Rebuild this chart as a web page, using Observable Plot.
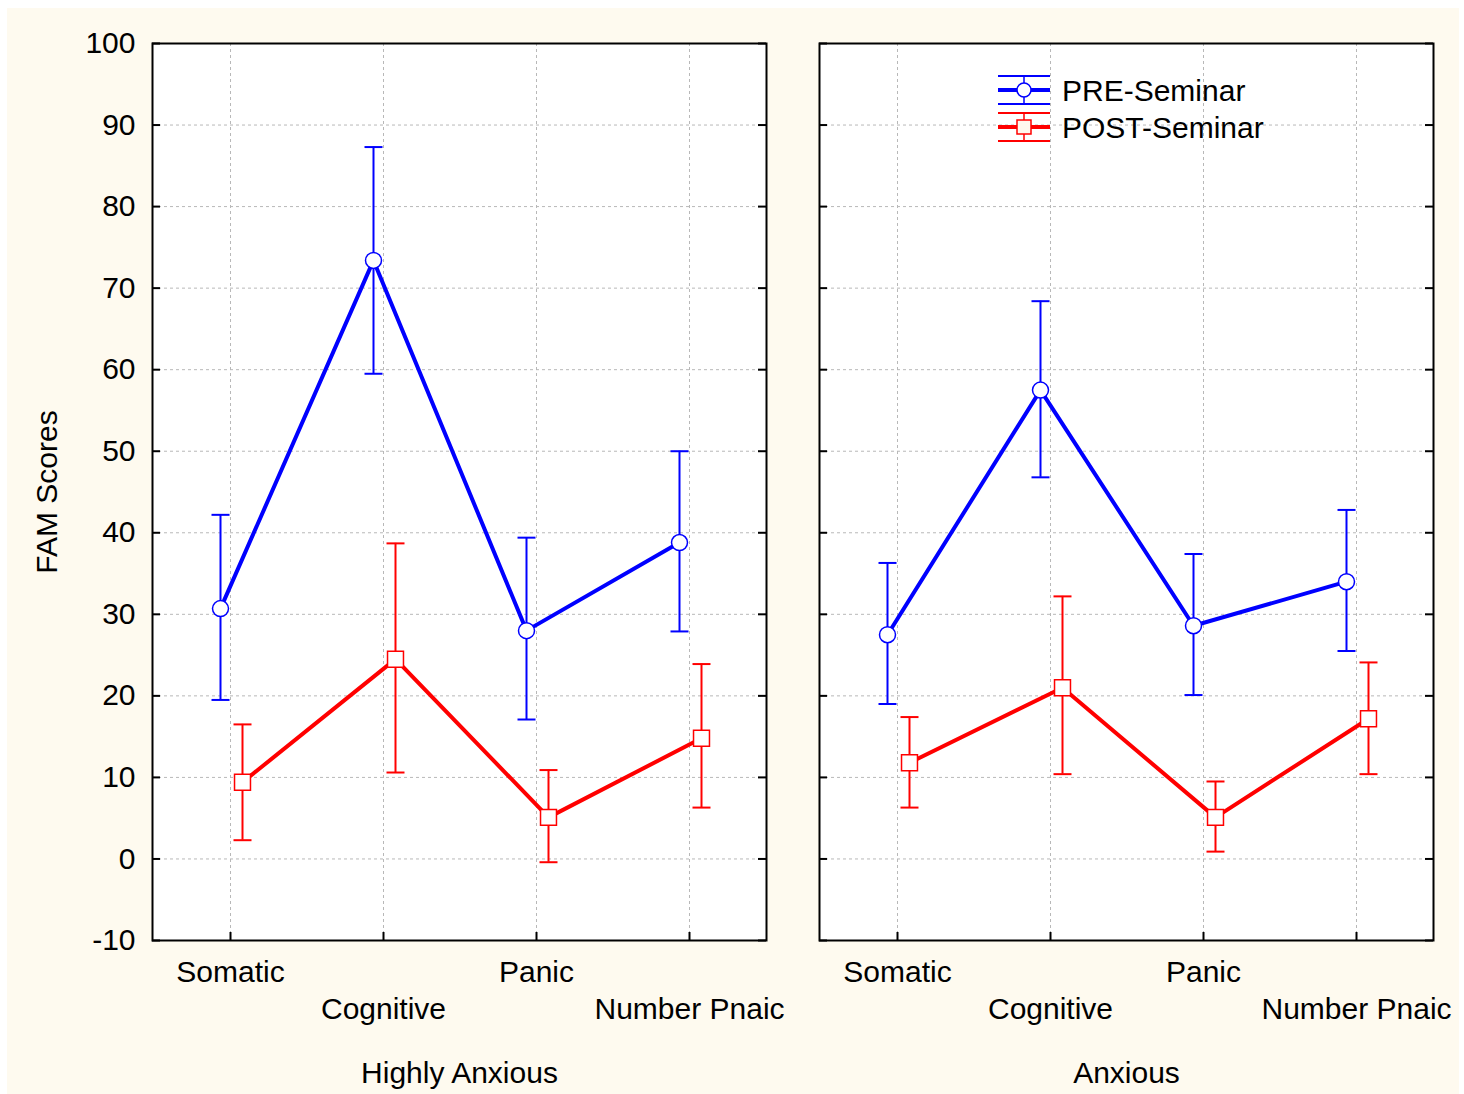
<!DOCTYPE html>
<html>
<head>
<meta charset="utf-8">
<script src="https://cdn.jsdelivr.net/npm/d3@7"></script>
<script src="https://cdn.jsdelivr.net/npm/@observablehq/plot@0.6"></script>
<style>
  html, body { margin: 0; padding: 0; background: #ffffff; }
  #wrap { position: relative; width: 1464px; height: 1094px; overflow: hidden; }
  #bg { position: absolute; left: 7px; top: 8px; width: 1452px; height: 1086px; background: #fefaef; }
  #chart { position: absolute; left: 0; top: 0; }
  #legend { position: absolute; left: 990px; top: 62px; }
</style>
</head>
<body>
<div id="wrap">
  <div id="bg"></div>
  <div id="chart"></div>
  <svg id="legend" width="300" height="90"></svg>
</div>
<script>
// ---- data ----
const categories = ["Somatic", "Cognitive", "Panic", "Number Pnaic"];
const groups = ["Highly Anxious", "Anxious"];
const seriesNames = ["PRE-Seminar", "POST-Seminar"];
const seriesColors = ["#0000ff", "#ff0000"];
const yTicks = [-10, 0, 10, 20, 30, 40, 50, 60, 70, 80, 90, 100];

// Highly Anxious
const preHighMean = [30.7, 73.4, 28.0, 38.8];
const preHighLo   = [19.5, 59.5, 17.1, 27.9];
const preHighHi   = [42.2, 87.3, 39.4, 50.0];
const postHighMean = [9.4, 24.5, 5.1, 14.8];
const postHighLo   = [2.3, 10.6, -0.4, 6.3];
const postHighHi   = [16.5, 38.7, 10.9, 23.9];
// Anxious
const preAnxMean = [27.5, 57.5, 28.6, 34.0];
const preAnxLo   = [19.0, 46.8, 20.1, 25.5];
const preAnxHi   = [36.3, 68.4, 37.4, 42.8];
const postAnxMean = [11.8, 21.0, 5.1, 17.2];
const postAnxLo   = [6.3, 10.4, 0.9, 10.4];
const postAnxHi   = [17.4, 32.2, 9.5, 24.1];

function rowsFor(group, series, mean, lo, hi) {
  return categories.map((c, i) => ({group, series, category: c, mean: mean[i], lo: lo[i], hi: hi[i]}));
}
const preRows = [
  ...rowsFor(groups[0], seriesNames[0], preHighMean, preHighLo, preHighHi),
  ...rowsFor(groups[1], seriesNames[0], preAnxMean, preAnxLo, preAnxHi)
];
const postRows = [
  ...rowsFor(groups[0], seriesNames[1], postHighMean, postHighLo, postHighHi),
  ...rowsFor(groups[1], seriesNames[1], postAnxMean, postAnxLo, postAnxHi)
];

// horizontal cap symbol for error bars
const capSymbol = { draw(ctx) { ctx.moveTo(-9, 0); ctx.lineTo(9, 0); } };

const W = 1464, H = 1094;
const mL = 152, mR = 31, mT = 43, mB = 154;
const panelW = 614, panelH = H - mT - mB;
const gap = 53;
const stepFx = panelW + gap;
const padInner = gap / stepFx;

function seriesMarks(rows, color, dx, symbol, r) {
  return [
    Plot.ruleX(rows, {x: "category", y1: "lo", y2: "hi", fx: "group", stroke: color, strokeWidth: 2, dx}),
    Plot.dot(rows, {x: "category", y: "lo", fx: "group", symbol: capSymbol, fill: "none", stroke: color, strokeWidth: 2, dx}),
    Plot.dot(rows, {x: "category", y: "hi", fx: "group", symbol: capSymbol, fill: "none", stroke: color, strokeWidth: 2, dx}),
    Plot.line(rows, {x: "category", y: "mean", fx: "group", stroke: color, strokeWidth: 4, dx}),
    Plot.dot(rows, {x: "category", y: "mean", fx: "group", symbol, r, fill: "white", stroke: color, strokeWidth: 1.5, dx})
  ];
}

const chart = Plot.plot({
  width: W,
  height: H,
  marginLeft: mL,
  marginRight: mR,
  marginTop: mT,
  marginBottom: mB,
  style: {background: "transparent", fontFamily: "Arial, 'Liberation Sans', sans-serif", fontSize: "30px", color: "black", overflow: "visible"},
  fx: {domain: groups, paddingInner: padInner, paddingOuter: 0, round: false, axis: null},
  x: {domain: categories, type: "point", padding: 0.5, axis: null},
  y: {domain: [-10, 100], axis: null},
  marks: [
    Plot.frame({fill: "white", stroke: "none"}),
    Plot.gridY(yTicks, {stroke: "#b8b8b8", strokeOpacity: 1, strokeWidth: 1, strokeDasharray: "3,3"}),
    Plot.gridX(categories, {stroke: "#b8b8b8", strokeOpacity: 1, strokeWidth: 1, strokeDasharray: "3,3"}),
    ...seriesMarks(preRows, seriesColors[0], -10, "circle", 8),
    ...seriesMarks(postRows, seriesColors[1], 12, "square", 9),
    // inward ticks
    Plot.tickY(yTicks, {y: d => d, insetRight: panelW - 8, stroke: "black", strokeWidth: 2}),
    Plot.tickY(yTicks, {y: d => d, insetLeft: panelW - 8, stroke: "black", strokeWidth: 2}),
    Plot.tickX(categories, {x: d => d, insetTop: panelH - 8, stroke: "black", strokeWidth: 2}),
    Plot.frame({stroke: "black", strokeWidth: 2}),
    // axes (labels only)
    Plot.axisY(yTicks, {anchor: "left", tickSize: 0, tickPadding: 17, fontSize: 30, fill: "black",
      tickFormat: d => String(d),
      label: "FAM Scores", labelArrow: "none", labelAnchor: "center", labelOffset: 117}),
    Plot.axisX(["Somatic", "Panic"], {anchor: "bottom", tickSize: 0, tickPadding: 20, fontSize: 30, fill: "black", label: null}),
    Plot.axisX(["Cognitive", "Number Pnaic"], {anchor: "bottom", tickSize: 0, tickPadding: 57, fontSize: 30, fill: "black", label: null}),
    Plot.axisFx({anchor: "bottom", tickSize: 0, tickPadding: 121, fontSize: 30, fill: "black", label: null})
  ]
});
document.getElementById("chart").appendChild(chart);

// legend
const lg = d3.select("#legend");
const legendItems = seriesNames.map((name, i) => ({name, color: seriesColors[i], symbol: i === 0 ? "circle" : "square"}));
legendItems.forEach((it, i) => {
  const cy = 28 + i * 37;
  const g = lg.append("g");
  g.append("line").attr("x1", 8).attr("x2", 60).attr("y1", cy - 14).attr("y2", cy - 14).attr("stroke", it.color).attr("stroke-width", 2);
  g.append("line").attr("x1", 8).attr("x2", 60).attr("y1", cy + 14).attr("y2", cy + 14).attr("stroke", it.color).attr("stroke-width", 2);
  g.append("line").attr("x1", 34).attr("x2", 34).attr("y1", cy - 14).attr("y2", cy + 14).attr("stroke", it.color).attr("stroke-width", 1.5);
  g.append("line").attr("x1", 8).attr("x2", 60).attr("y1", cy).attr("y2", cy).attr("stroke", it.color).attr("stroke-width", 4);
  if (it.symbol === "circle") {
    g.append("circle").attr("cx", 34).attr("cy", cy).attr("r", 7).attr("fill", "white").attr("stroke", it.color).attr("stroke-width", 1.5);
  } else {
    g.append("rect").attr("x", 27).attr("y", cy - 7).attr("width", 14).attr("height", 14).attr("fill", "#fff8ee").attr("stroke", it.color).attr("stroke-width", 1.5);
  }
  g.append("text").attr("x", 72).attr("y", cy).attr("dy", "0.35em").attr("font-size", 30)
    .attr("font-family", "Arial, 'Liberation Sans', sans-serif").attr("fill", "black").text(it.name);
});
</script>
</body>
</html>
